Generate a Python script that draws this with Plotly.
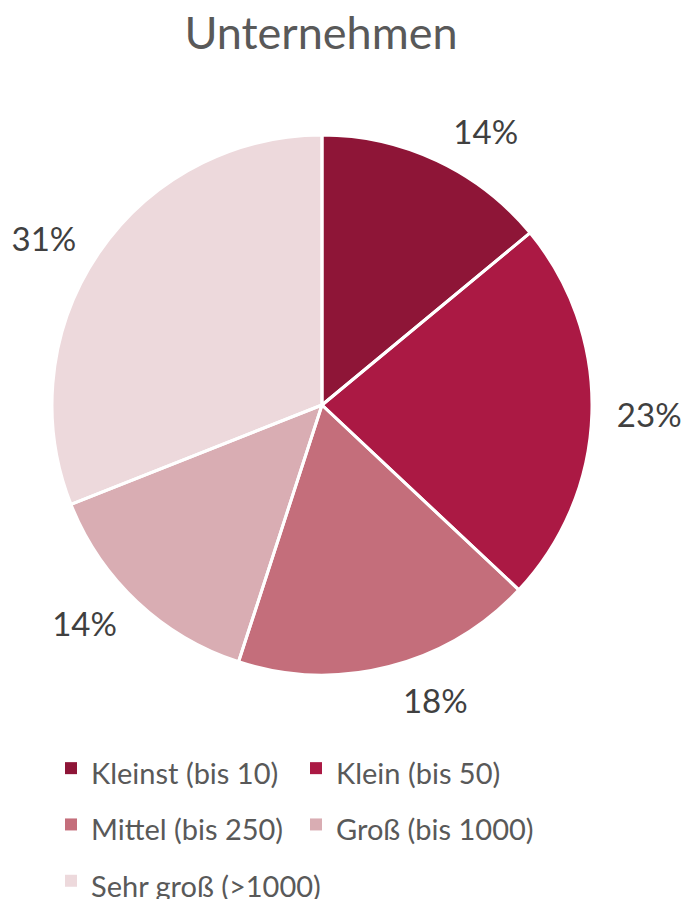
import plotly.graph_objects as go

categories = ["Kleinst (bis 10)", "Klein (bis 50)", "Mittel (bis 250)", "Groß (bis 1000)", "Sehr groß (>1000)"]
values = [14, 23, 18, 14, 31]
colors = ["#8E1537", "#AB1944", "#C46E7B", "#D9ADB3", "#EDD9DC"]

W, H = 681, 899

# pie geometry (px from top-left of the page)
cx, cy, r = 322, 405, 270
r_lab = 285  # label ring radius

def dom(rad):
    return dict(x=[(cx - rad) / W, (cx + rad) / W],
                y=[(H - (cy + rad)) / H, (H - (cy - rad)) / H])

FONT = "Lato"
legend_labels = [f'<span style="font-size:29px">{c}</span>' for c in categories]
clear = ["rgba(0,0,0,0)"] * len(values)
common = dict(labels=legend_labels, values=values, sort=False, direction="clockwise", rotation=0)

fig = go.Figure()
# label carrier (transparent, larger radius) -> places the percentages further out
fig.add_trace(go.Pie(
    **common,
    marker=dict(colors=clear, line=dict(width=0)),
    texttemplate="%{percent:.0%}", textposition="outside",
    outsidetextfont=dict(size=33, color="#404040", family=FONT),
    domain=dom(r_lab), showlegend=False, hoverinfo="skip",
))
# coloured slices
fig.add_trace(go.Pie(
    **common,
    marker=dict(colors=colors, line=dict(width=0)),
    textinfo="none",
    domain=dom(r), showlegend=True,
    hovertemplate="%{label}: %{percent}<extra></extra>",
))
# white slice separators
fig.add_trace(go.Pie(
    **common,
    marker=dict(colors=clear, line=dict(color="white", width=3)),
    textinfo="none",
    domain=dom(r), showlegend=False, hoverinfo="skip",
))

fig.update_layout(
    width=W, height=H,
    margin=dict(l=0, r=0, t=0, b=0, autoexpand=False),
    paper_bgcolor="white",
    title=dict(text="Unternehmen", x=321 / W, xanchor="center", y=1 - 33 / H, yanchor="middle",
               font=dict(size=45, color="#595959", family=FONT)),
    font=dict(family=FONT, color="#595959"),
    legend=dict(orientation="h", xref="container", yref="container",
                x=51 / W, xanchor="left", y=1 - 735 / H, yanchor="top",
                font=dict(size=41, color="#595959", family=FONT), entrywidth=200, itemwidth=30),
)

fig.write_html("out.html", config={"displayModeBar": False},
               post_script="document.body.style.margin='0px';")
